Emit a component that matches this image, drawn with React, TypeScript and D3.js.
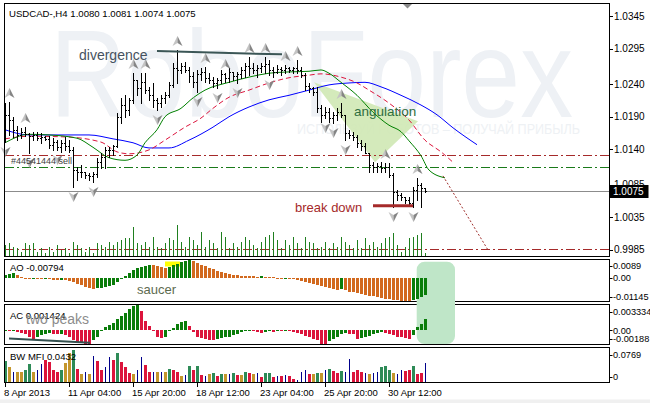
import React from "react";
import * as d3 from "d3";

// ---------- price bars (H4, 106 bars) ----------
const opens = [1.0177,1.0193,1.0185,1.0170,1.0162,1.0167,1.0163,1.0160,1.0162,1.0157,1.0159,1.0156,1.0147,1.0151,1.0143,1.0150,1.0145,1.0139,1.0108,1.0105,1.0105,1.0100,1.0099,1.0102,1.0120,1.0128,1.0139,1.0139,1.0145,1.0190,1.0208,1.0200,1.0216,1.0247,1.0234,1.0243,1.0231,1.0223,1.0216,1.0211,1.0219,1.0223,1.0239,1.0265,1.0262,1.0268,1.0262,1.0253,1.0243,1.0256,1.0259,1.0250,1.0247,1.0242,1.0247,1.0256,1.0250,1.0259,1.0253,1.0256,1.0262,1.0268,1.0265,1.0262,1.0265,1.0268,1.0271,1.0262,1.0259,1.0263,1.0262,1.0265,1.0262,1.0265,1.0262,1.0254,1.0237,1.0234,1.0228,1.0203,1.0193,1.0197,1.0188,1.0193,1.0197,1.0193,1.0165,1.0162,1.0159,1.0150,1.0145,1.0134,1.0116,1.0113,1.0114,1.0111,1.0113,1.0100,1.0074,1.0070,1.0067,1.0062,1.0057,1.0077,1.0085,1.0080];
const highs = [1.0211,1.0213,1.0190,1.0176,1.0173,1.0174,1.0165,1.0167,1.0167,1.0165,1.0160,1.0160,1.0157,1.0154,1.0154,1.0159,1.0154,1.0143,1.0113,1.0116,1.0105,1.0103,1.0105,1.0127,1.0134,1.0143,1.0143,1.0147,1.0196,1.0219,1.0223,1.0219,1.0257,1.0247,1.0257,1.0257,1.0236,1.0242,1.0219,1.0223,1.0228,1.0243,1.0273,1.0293,1.0273,1.0274,1.0267,1.0259,1.0262,1.0265,1.0267,1.0257,1.0251,1.0250,1.0262,1.0257,1.0265,1.0259,1.0259,1.0267,1.0273,1.0282,1.0273,1.0270,1.0273,1.0282,1.0277,1.0267,1.0270,1.0267,1.0270,1.0267,1.0267,1.0277,1.0267,1.0257,1.0242,1.0236,1.0236,1.0208,1.0205,1.0203,1.0197,1.0203,1.0211,1.0193,1.0170,1.0167,1.0162,1.0154,1.0150,1.0134,1.0120,1.0119,1.0120,1.0119,1.0119,1.0103,1.0077,1.0073,1.0067,1.0067,1.0082,1.0096,1.0088,1.0081];
const lows = [1.0151,1.0162,1.0159,1.0154,1.0157,1.0160,1.0134,1.0154,1.0154,1.0150,1.0154,1.0142,1.0139,1.0139,1.0136,1.0139,1.0136,1.0082,1.0093,1.0097,1.0096,1.0093,1.0090,1.0097,1.0111,1.0111,1.0128,1.0131,1.0143,1.0180,1.0190,1.0193,1.0211,1.0223,1.0211,1.0227,1.0216,1.0205,1.0200,1.0205,1.0211,1.0220,1.0236,1.0242,1.0257,1.0259,1.0243,1.0236,1.0228,1.0247,1.0243,1.0242,1.0236,1.0234,1.0242,1.0243,1.0243,1.0247,1.0242,1.0250,1.0251,1.0254,1.0257,1.0251,1.0259,1.0257,1.0254,1.0251,1.0257,1.0254,1.0257,1.0259,1.0257,1.0257,1.0251,1.0231,1.0228,1.0223,1.0197,1.0182,1.0188,1.0182,1.0180,1.0185,1.0190,1.0154,1.0157,1.0154,1.0143,1.0139,1.0134,1.0105,1.0105,1.0105,1.0105,1.0105,1.0097,1.0051,1.0062,1.0062,1.0057,1.0054,1.0051,1.0062,1.0051,1.0074];
const closes = [1.0193,1.0185,1.0170,1.0162,1.0167,1.0163,1.0160,1.0162,1.0157,1.0159,1.0156,1.0147,1.0151,1.0143,1.0150,1.0145,1.0139,1.0108,1.0105,1.0105,1.0100,1.0099,1.0102,1.0120,1.0128,1.0139,1.0139,1.0145,1.0190,1.0208,1.0200,1.0216,1.0247,1.0234,1.0243,1.0231,1.0223,1.0216,1.0211,1.0219,1.0223,1.0239,1.0265,1.0262,1.0268,1.0262,1.0253,1.0243,1.0256,1.0259,1.0250,1.0247,1.0242,1.0247,1.0256,1.0250,1.0259,1.0253,1.0256,1.0262,1.0268,1.0265,1.0262,1.0265,1.0268,1.0271,1.0262,1.0259,1.0263,1.0262,1.0265,1.0262,1.0265,1.0262,1.0254,1.0237,1.0234,1.0228,1.0203,1.0193,1.0197,1.0188,1.0193,1.0197,1.0193,1.0165,1.0162,1.0159,1.0150,1.0145,1.0134,1.0116,1.0113,1.0114,1.0111,1.0113,1.0100,1.0074,1.0070,1.0067,1.0062,1.0057,1.0077,1.0085,1.0080,1.0075];
const volumes = [700,800,600,500,300,800,700,800,300,500,200,600,300,700,400,500,200,900,700,500,300,600,200,800,700,600,900,700,900,1000,1100,1100,1800,800,700,900,600,1200,600,500,800,1100,1000,1900,900,600,1200,1000,700,1500,600,1000,800,500,1500,1200,500,800,600,900,1200,1000,700,500,900,1200,1300,1500,1000,500,1000,700,1200,800,500,1200,900,800,500,600,900,500,800,600,1200,900,700,500,1000,500,1100,700,900,600,800,1100,1200,1400,700,300,600,1100,1200,1300,1400,200];

// ---------- Alligator ----------
const jawIdx = [0,6,21,27,32,36,41,46,52,56,61,66,71,76,81,86,90,94,99,104,108,112,118];
const jawVal = [1.0170,1.0162,1.0162,1.0156,1.0150,1.0142,1.0142,1.0154,1.0174,1.0190,1.0205,1.0216,1.0223,1.0231,1.0239,1.0242,1.0243,1.0236,1.0223,1.0208,1.0193,1.0173,1.0147];
const teethIdx = [0,6,15,24,28,31,36,40,45,49,52,56,61,66,71,76,79,84,88,91,96,101,105,109,112];
const teethVal = [1.0156,1.0160,1.0159,1.0151,1.0136,1.0133,1.0139,1.0154,1.0174,1.0188,1.0203,1.0220,1.0231,1.0242,1.0250,1.0254,1.0256,1.0251,1.0242,1.0231,1.0211,1.0185,1.0154,1.0136,1.0120];
const lipsIdx = [0,6,11,18,22,26,30,33,35,38,40,44,47,50,56,61,66,71,76,79,81,84,88,92,96,99,101,104,106,110];
const lipsVal = [1.0150,1.0163,1.0162,1.0157,1.0143,1.0127,1.0123,1.0131,1.0150,1.0170,1.0190,1.0203,1.0219,1.0231,1.0243,1.0251,1.0257,1.0259,1.0260,1.0262,1.0257,1.0243,1.0223,1.0197,1.0177,1.0167,1.0153,1.0130,1.0108,1.0096];

// ---------- levels / objects ----------
const levelRedTop = 1.0131;
const levelGreen = 1.0113;
const levelRedBottom = 0.9987;
const lastPrice = 1.0075;
const trendIdx = [109.5, 120.75];
const trendVal = [1.0099, 0.9985];
const divIdx = [38, 69.25];
const divVal = [1.0291, 1.0286];
const breakIdx = [92, 102];
const breakVal = [1.0053, 1.0053];
const angIdx = [77.25, 103.25, 92.5];
const angVal = [1.0243, 1.0183, 1.0120];
const fractalsUp = [1,5,32,35,43,50,55,61,65,70,73,84,95,103];
const fractalsDown = [0,6,13,17,22,38,48,53,58,66,80,82,85,97,102];

// ---------- oscillators ----------
const aoValues = [0.0012,0.0018,0.0021,0.0012,0.0006,0.0001,-0.0004,-0.0003,-0.0005,-0.0007,-0.0006,-0.0008,-0.0010,-0.0011,-0.0009,-0.0012,-0.0016,-0.0022,-0.0029,-0.0036,-0.0042,-0.0047,-0.0052,-0.0050,-0.0047,-0.0043,-0.0038,-0.0032,-0.0022,-0.0008,0.0008,0.0022,0.0036,0.0046,0.0053,0.0058,0.0062,0.0059,0.0055,0.0051,0.0047,0.0051,0.0059,0.0067,0.0074,0.0081,0.0089,0.0080,0.0070,0.0061,0.0054,0.0045,0.0040,0.0034,0.0027,0.0021,0.0017,0.0014,0.0011,0.0010,0.0009,0.0008,0.0007,0.0006,0.0007,0.0005,0.0003,0.0002,0.0001,-0.0001,0.0000,-0.0003,-0.0007,-0.0011,-0.0015,-0.0019,-0.0024,-0.0029,-0.0034,-0.0038,-0.0042,-0.0046,-0.0052,-0.0057,-0.0055,-0.0060,-0.0065,-0.0069,-0.0073,-0.0077,-0.0080,-0.0084,-0.0088,-0.0092,-0.0095,-0.0098,-0.0101,-0.0104,-0.0107,-0.0110,-0.0112,-0.01145,-0.0106,-0.0099,-0.0090,-0.00794];
const acValues = [-0.0001,-0.0001,0.0001,-0.0002,-0.0003,-0.0005,-0.0008,-0.0011,-0.0008,-0.0006,-0.0004,-0.0003,-0.0004,-0.0005,-0.0004,-0.0006,-0.0008,-0.0012,-0.0015,-0.0016,-0.0017,-0.00188,-0.0012,-0.0008,0.0001,0.0004,0.0007,0.0010,0.0015,0.0019,0.0023,0.0027,0.0031,0.003334,0.0025,0.0012,0.0006,-0.0001,-0.0008,-0.0010,-0.0009,-0.0001,0.0003,0.0008,0.0011,0.0012,0.0006,-0.0002,-0.0008,-0.0010,-0.0011,-0.0012,-0.0013,-0.0011,-0.0010,-0.0009,-0.0008,-0.0006,-0.0004,-0.0002,-0.0001,0.0001,-0.0001,-0.0002,-0.0003,-0.0002,-0.0001,-0.0002,0.0000,-0.0001,0.0000,-0.0001,-0.0002,-0.0003,-0.0005,-0.0007,-0.0009,-0.0011,-0.0013,-0.0017,-0.0018,-0.0014,-0.0011,-0.0008,-0.0005,-0.0003,-0.0004,-0.0005,-0.0011,-0.0010,-0.0009,-0.0007,-0.0005,-0.0003,-0.0002,-0.0003,-0.0004,-0.0006,-0.0008,-0.0009,-0.0010,-0.0011,-0.0006,0.0004,0.0008,0.001424];
const acTrendIdx = [1, 21.25];
const acTrendVal = [-0.00103, -0.00158];
const mfiValues = [0.0488,0.0355,0.0244,0.0244,0.0244,0.0296,0.0414,0.0244,0.0281,0.0414,0.0503,0.0466,0.0281,0.0244,0.0281,0.0429,0.0651,0.0725,0.0318,0.0208,0.0244,0.0208,0.0592,0.0488,0.0281,0.0355,0.0577,0.0503,0.0651,0.0466,0.0355,0.0222,0.0208,0.0281,0.0577,0.0392,0.0244,0.0244,0.0244,0.0244,0.0244,0.0318,0.0296,0.0244,0.0156,0.0171,0.0370,0.0296,0.0370,0.0171,0.0156,0.0193,0.0222,0.0148,0.0208,0.0193,0.0208,0.0230,0.0185,0.0171,0.0252,0.0230,0.0193,0.0222,0.0134,0.0222,0.0230,0.0134,0.0148,0.0156,0.0171,0.0148,0.0097,0.0060,0.0244,0.0281,0.0208,0.0208,0.0230,0.0230,0.0281,0.0318,0.0267,0.0230,0.0267,0.0244,0.0518,0.0244,0.0296,0.0244,0.0222,0.0208,0.0222,0.0244,0.0355,0.0370,0.0281,0.0230,0.0208,0.0281,0.0267,0.0281,0.0370,0.0208,0.0230,0.0432];
const mfiKinds = "g y b y y g g y b b r r r r g y y g r y b y b r r b b r g r r r y b b r r b y b y g r r y b g r g r b y g r g y b g r y g r y b r g g r b r b r r b b b r y g y b g r r g b b r r r b y b b g g g y b b r r g r r b".split(" ");

// ---------- axes ----------
const priceTicks = [1.0345, 1.0295, 1.0240, 1.0190, 1.0140, 1.0085, 1.0035, 0.9985];
const timeLabels = ["8 Apr 2013", "11 Apr 04:00", "15 Apr 20:00", "18 Apr 12:00", "23 Apr 04:00", "25 Apr 20:00", "30 Apr 12:00"];
const timeLabelIdx = [0, 16, 32, 48, 64, 80, 96];
const aoLabels = ["0.0089", "0.00", "-0.01145"];
const acLabels = ["0.003334", "0.00", "-0.00188"];
const mfiLabels = ["0.0769", "0"];

const FONT = "'Liberation Sans', Arial, sans-serif";
const MFI_COLORS: Record<string, string> = { g: "#2E8B57", r: "#DC143C", y: "#C4962C", b: "#00008B" };

function arrowUp(cx: number, cy: number, key: string) {
  return (
    <g key={key}>
      <path d={`M${cx},${cy - 5} L${cx},${cy + 2} L${cx - 5},${cy + 5} Z`} fill="#c4c4c4" />
      <path d={`M${cx},${cy - 5} L${cx + 5},${cy + 5} L${cx},${cy + 2} Z`} fill="#858585" />
    </g>
  );
}
function arrowDown(cx: number, cy: number, key: string) {
  return (
    <g key={key}>
      <path d={`M${cx},${cy + 5} L${cx},${cy - 2} L${cx - 5},${cy - 5} Z`} fill="#c4c4c4" />
      <path d={`M${cx},${cy + 5} L${cx + 5},${cy - 5} L${cx},${cy - 2} Z`} fill="#858585" />
    </g>
  );
}

export default function App() {
  const x = d3.scaleLinear().domain([0, 151]).range([5, 609]);
  const px = (i: number) => Math.round(x(i));
  const y = d3.scaleLinear().domain([0.99742, 1.03635]).range([257, 4]);
  const yv = d3.scaleLinear().domain([0, 1900]).range([256.7, 225]);
  const yao = d3.scaleLinear().domain([-0.01145, 0.0089]).range([302, 259]);
  const yac = d3.scaleLinear().domain([-0.00188, 0.003334]).range([345, 304.5]);
  const ymfi = d3.scaleLinear().domain([0, 0.0769]).range([383, 348]);

  const lineGen = d3.line<[number, number]>().x(d => x(d[0])).y(d => y(d[1])).curve(d3.curveMonotoneX);
  const jaw = lineGen(jawIdx.map((v, k) => [v, jawVal[k]]));
  const teeth = lineGen(teethIdx.map((v, k) => [v, teethVal[k]]));
  const lips = lineGen(lipsIdx.map((v, k) => [v, lipsVal[k]]));

  const R = 609.5; // right edge of panels
  const levelLine = (p: number, color: string, key: string) => {
    const yy = Math.round(y(p)) + 0.5;
    return <line key={key} x1={5} x2={R} y1={yy} y2={yy} stroke={color} strokeWidth={1} strokeDasharray="9,3,2,3" shapeRendering="crispEdges" />;
  };

  const aoZero = yao(0);
  const acZero = yac(0);

  const aoBar = (v: number, i: number, key: string) => {
    const up = i === 0 ? true : v > aoValues[i - 1];
    const y1 = Math.min(yao(v), aoZero), y2 = Math.max(yao(v), aoZero);
    return <rect key={key} x={px(i) - 1} y={y1} width={3} height={Math.max(1, y2 - y1)} fill={up ? "#0a7d0a" : "#D2691E"} shapeRendering="crispEdges" />;
  };
  const acBar = (v: number, i: number, key: string) => {
    const up = i === 0 ? true : v > acValues[i - 1];
    const y1 = Math.min(yac(v), acZero), y2 = Math.max(yac(v), acZero);
    return <rect key={key} x={px(i) - 1} y={y1} width={3} height={Math.max(1, y2 - y1)} fill={up ? "#0a7d0a" : "#DC143C"} shapeRendering="crispEdges" />;
  };

  return (
    <svg width={650} height={403} style={{ display: "block", position: "absolute", left: 0, top: 0, background: "#ffffff" }} fontFamily={FONT}>
      <defs>
        <clipPath id="mainClip"><rect x={5} y={4} width={604} height={252} /></clipPath>
      </defs>
      <rect x={0} y={0} width={650} height={403} fill="#ffffff" />
      <rect x={0} y={399.5} width={650} height={4} fill="#f0f0f0" />

      {/* watermark */}
      <g clipPath="url(#mainClip)">
        <text x={50} y={117} fontSize={124} fill="#eef1f5" textLength={523} lengthAdjust="spacingAndGlyphs">RoboForex</text>
        <text x={297} y={134} fontSize={14} fill="#eef1f4" textLength={283} lengthAdjust="spacingAndGlyphs">ИСПОЛЬЗУЙ РОБОТОВ – ПОЛУЧАЙ ПРИБЫЛЬ</text>
      </g>

      {/* angulation triangle */}
      <polygon points={angIdx.map((v, k) => `${x(v)},${y(angVal[k])}`).join(" ")} fill="#cfe8b4" opacity={0.9} />

      {/* levels */}
      {levelLine(levelRedTop, "#a52a2a", "l1")}
      {levelLine(levelGreen, "#1a7a1a", "l2")}
      {levelLine(levelRedBottom, "#a52a2a", "l3")}
      <line x1={5} x2={R} y1={Math.round(y(lastPrice)) + 0.5} y2={Math.round(y(lastPrice)) + 0.5} stroke="#8c8c8c" shapeRendering="crispEdges" />

      {/* volumes */}
      {volumes.map((v, i) => (
        <rect key={"v" + i} x={px(i)} y={yv(v)} width={1} height={yv(0) - yv(v)} fill="#1f7f1f" shapeRendering="crispEdges" />
      ))}

      {/* alligator */}
      <g clipPath="url(#mainClip)" fill="none">
        <path d={jaw || ""} stroke="#0000ff" strokeWidth={1} />
        <path d={teeth || ""} stroke="#dc143c" strokeWidth={1} strokeDasharray="5,3" />
        <path d={lips || ""} stroke="#008000" strokeWidth={1} />
        <line x1={x(trendIdx[0])} y1={y(trendVal[0])} x2={x(trendIdx[1])} y2={y(trendVal[1])} stroke="#a0302d" strokeWidth={1} strokeDasharray="2,2" />
      </g>

      {/* OHLC bars */}
      {opens.map((o, i) => {
        const cx = px(i);
        const yh = Math.round(y(highs[i]));
        const yl = Math.round(y(lows[i]));
        return (
          <g key={"b" + i} fill="#000" shapeRendering="crispEdges">
            <rect x={cx} y={yh} width={1} height={Math.max(1, yl - yh + 1)} />
            <rect x={cx - 1} y={Math.round(y(o))} width={1} height={1} />
            <rect x={cx + 1} y={Math.round(y(closes[i]))} width={1} height={1} />
          </g>
        );
      })}

      {/* fractals */}
      {fractalsUp.map(i => arrowUp(px(i) + 0.5, Math.round(y(highs[i])) - 9, "fu" + i))}
      {fractalsDown.map(i => arrowDown(px(i) + 0.5, Math.round(y(lows[i])) + 10, "fd" + i))}

      {/* drawn objects */}
      <line x1={x(divIdx[0])} y1={y(divVal[0])} x2={x(divIdx[1])} y2={y(divVal[1])} stroke="#3b5656" strokeWidth={2} />
      <line x1={x(breakIdx[0])} y1={y(breakVal[0])} x2={x(breakIdx[1])} y2={y(breakVal[1])} stroke="#a52a2a" strokeWidth={3} />
      <text x={79} y={60} fontSize={14} fill="#46525e">divergence</text>
      <text x={354} y={116} fontSize={13.5} fill="#2e6e3e">angulation</text>
      <text x={295} y={212} fontSize={13} fill="#a52a2a">break down</text>
      <text x={11} y={163.5} fontSize={9} fill="#404040">#44541444 sell</text>
      <text x={9} y={16.5} fontSize={9.6} fill="#000">USDCAD-,H4  1.0080 1.0081 1.0074 1.0075</text>
      <polygon points="403,4 412,4 407.5,8.5" fill="#8a8a8a" />

      {/* ---------- AO ---------- */}
      <rect x={165} y={261.5} width={15} height={5} fill="#ffff00" />
      {aoValues.map((v, i) => aoBar(v, i, "ao" + i))}
      <text x={10} y={271} fontSize={9.5} fill="#000">AO -0.00794</text>
      <text x={137} y={294} fontSize={13} fill="#5d6b4f">saucer</text>

      {/* ---------- AC ---------- */}
      {acValues.map((v, i) => acBar(v, i, "ac" + i))}
      <line x1={x(acTrendIdx[0])} y1={yac(acTrendVal[0])} x2={x(acTrendIdx[1])} y2={yac(acTrendVal[1])} stroke="#34504f" strokeWidth={2} />
      <text x={10} y={319} fontSize={9.5} fill="#000">AC 0.001424</text>
      <text x={26} y={324} fontSize={14} fill="#8c8c8c">two peaks</text>

      {/* ---------- MFI ---------- */}
      {mfiValues.map((v, i) => {
        const k = mfiKinds[i];
        const w = k === "b" ? 1 : 3;
        return <rect key={"mf" + i} x={k === "b" ? px(i) : px(i) - 1} y={ymfi(v)} width={w} height={ymfi(0) - ymfi(v)} fill={MFI_COLORS[k]} shapeRendering="crispEdges" />;
      })}
      <text x={10} y={360} fontSize={9.5} fill="#000">BW MFI 0.0432</text>

      {/* panel frames */}
      <g fill="none" stroke="#000" strokeWidth={1} shapeRendering="crispEdges">
        <rect x={4.5} y={3.5} width={605} height={253} />
        <rect x={4.5} y={259.5} width={605} height={42} />
        <rect x={4.5} y={304.5} width={605} height={40} />
        <rect x={4.5} y={347.5} width={605} height={35} />
      </g>

      {/* highlight box over AO/AC (bars redrawn on top) */}
      <rect x={416.7} y={261.7} width={38.3} height={82.3} rx={8} fill="#bfe6c8" />
      {aoValues.map((v, i) => (px(i) < 414 ? null : aoBar(v, i, "ao2" + i)))}
      {acValues.map((v, i) => (px(i) < 414 ? null : acBar(v, i, "ac2" + i)))}

      {/* right price axis */}
      <g fontSize={10} fill="#000">
        {priceTicks.map(p => (
          <g key={"pt" + p}>
            <line x1={R} x2={R + 3} y1={Math.round(y(p)) + 0.5} y2={Math.round(y(p)) + 0.5} stroke="#000" shapeRendering="crispEdges" />
            <text x={614} y={y(p)} dy="0.35em">{d3.format(".4f")(p)}</text>
          </g>
        ))}
        <rect x={609.5} y={185} width={39} height={13} fill="#000" />
        <text x={613} y={y(lastPrice)} dy="0.35em" fill="#fff">{d3.format(".4f")(lastPrice)}</text>
      </g>
      <g fontSize={9.2} fill="#000">
        {[yao.range()[1] + 7, aoZero, yao.range()[0] - 5].map((yy, k) => (
          <g key={"aol" + k}>
            <line x1={R} x2={R + 3} y1={Math.round(yy) + 0.5} y2={Math.round(yy) + 0.5} stroke="#000" />
            <text x={613} y={yy} dy="0.35em">{aoLabels[k]}</text>
          </g>
        ))}
        {[yac.range()[1] + 7.5, acZero, yac.range()[0] - 6.5].map((yy, k) => (
          <g key={"acl" + k}>
            <line x1={R} x2={R + 3} y1={Math.round(yy) + 0.5} y2={Math.round(yy) + 0.5} stroke="#000" />
            <text x={613} y={yy} dy="0.35em">{acLabels[k]}</text>
          </g>
        ))}
        {[ymfi.range()[1] + 7, ymfi.range()[0] - 6].map((yy, k) => (
          <g key={"mfl" + k}>
            <line x1={R} x2={R + 3} y1={Math.round(yy) + 0.5} y2={Math.round(yy) + 0.5} stroke="#000" />
            <text x={613} y={yy} dy="0.35em">{mfiLabels[k]}</text>
          </g>
        ))}
      </g>

      {/* time axis */}
      <g fontSize={9.5} fill="#000">
        {timeLabelIdx.map((i, k) => (
          <g key={"tl" + k}>
            <line x1={px(i) + 0.5} x2={px(i) + 0.5} y1={383} y2={387} stroke="#000" shapeRendering="crispEdges" />
            <text x={px(i) - 1} y={396}>{timeLabels[k]}</text>
          </g>
        ))}
      </g>
    </svg>
  );
}
